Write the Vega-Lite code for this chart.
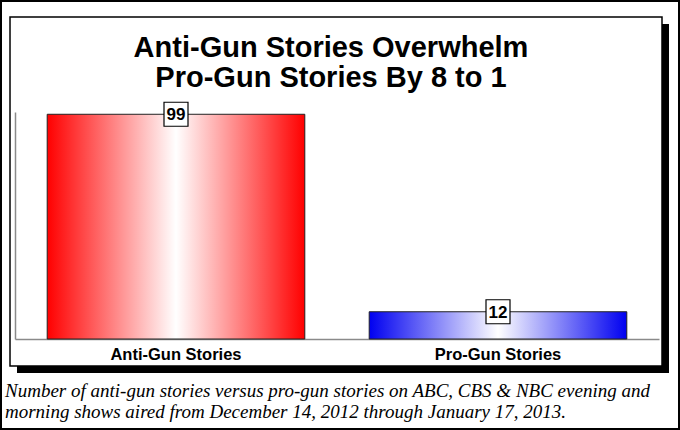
{
  "$schema": "https://vega.github.io/schema/vega-lite/v6.json",
  "width": 652,
  "height": 349,
  "autosize": "none",
  "padding": {"left": 10, "top": 17, "right": 18, "bottom": 64},
  "background": "white",
  "title": {
    "text": ["Anti-Gun Stories Overwhelm", "Pro-Gun Stories By 8 to 1"],
    "font": "Liberation Sans",
    "fontSize": 29,
    "fontWeight": "bold",
    "color": "black",
    "anchor": "middle",
    "frame": "group",
    "lineHeight": 30,
    "baseline": "top",
    "offset": -93,
    "dx": -5
  },
  "data": {"values": [
    {"cat": "Anti-Gun Stories", "value": 99},
    {"cat": "Pro-Gun Stories", "value": 12}
  ]},
  "layer": [
    {
      "encoding": {
        "x": {"field": "cat", "type": "nominal", "sort": null,
          "scale": {"range": [5, 649], "paddingInner": 0.2, "paddingOuter": 0.1},
          "axis": {"orient": "bottom", "offset": -27, "title": null, "ticks": false,
            "domainColor": "#8a8a8a", "domainWidth": 1.5, "labelAngle": 0,
            "labelFont": "Liberation Sans", "labelFontSize": 16.5, "labelFontWeight": "bold",
            "labelColor": "black", "labelPadding": 7}},
        "y": {"field": "value", "type": "quantitative",
          "scale": {"domain": [0, 100], "range": [322, 95]},
          "axis": {"orient": "left", "offset": -5, "title": null, "ticks": false, "labels": false,
            "grid": false, "domainColor": "#8a8a8a", "domainWidth": 1.5}}
      },
      "layer": [
        {
          "mark": {"type": "bar", "stroke": "#222", "strokeWidth": 1},
          "encoding": {
            "fill": {
              "condition": {
                "test": "datum.cat === 'Anti-Gun Stories'",
                "value": {"gradient": "linear", "x1": 0, "x2": 1, "y1": 0, "y2": 0,
                  "stops": [{"offset": 0, "color": "#ff0000"}, {"offset": 0.5, "color": "#ffffff"}, {"offset": 1, "color": "#ff0000"}]}
              },
              "value": {"gradient": "linear", "x1": 0, "x2": 1, "y1": 0, "y2": 0,
                "stops": [{"offset": 0, "color": "#0000f0"}, {"offset": 0.5, "color": "#ffffff"}, {"offset": 1, "color": "#0000f0"}]}
            }
          }
        },
        {
          "mark": {"type": "point", "shape": "square", "size": 576, "filled": true, "fill": "white", "stroke": "black", "strokeWidth": 1.2, "opacity": 1}
        },
        {
          "mark": {"type": "text", "font": "Liberation Sans", "fontSize": 17, "fontWeight": "bold", "color": "black", "align": "center", "baseline": "middle", "dy": 1},
          "encoding": {"text": {"field": "value"}}
        }
      ]
    },
    {
      "mark": {"type": "point", "opacity": 0},
      "encoding": {
        "x": {"field": "cat", "type": "nominal", "sort": null,
          "axis": {"orient": "bottom", "offset": -3.5, "translate": 7, "domainWidth": 7, "domainColor": "black",
            "domainCap": "butt", "ticks": false, "labels": false,
            "title": ["Number of anti-gun stories versus pro-gun stories on ABC, CBS & NBC evening and", "morning shows aired from December 14, 2012 through January 17, 2013."],
            "titleFont": "Liberation Serif", "titleFontStyle": "italic", "titleFontWeight": "normal",
            "titleFontSize": 19, "titleColor": "black", "titleAlign": "left", "titleAnchor": "start",
            "titleBaseline": "alphabetic", "titleX": -12, "titleY": 27, "titleLineHeight": 21}},
        "y": {"field": "value", "type": "quantitative",
          "axis": {"orient": "right", "offset": -3.5, "translate": 7, "domainWidth": 7, "domainColor": "black",
            "domainCap": "butt", "ticks": false, "labels": false, "grid": false, "title": null}},
        "color": {"field": "value", "type": "quantitative",
          "scale": {"range": ["rgba(255,255,255,0)", "rgba(255,255,255,0)"]},
          "legend": {"orient": "none", "legendX": -10, "legendY": -17, "direction": "horizontal",
            "gradientLength": 680, "gradientThickness": 430, "gradientStrokeColor": "black",
            "gradientStrokeWidth": 4, "title": null, "labelOpacity": 0, "labelExpr": "''", "padding": 0, "offset": 0}}
      }
    }
  ],
  "resolve": {"scale": {"x": "independent", "y": "independent"}},
  "config": {
    "view": {"stroke": "black", "strokeWidth": 1.5},
    "axis": {"grid": false}
  }
}
